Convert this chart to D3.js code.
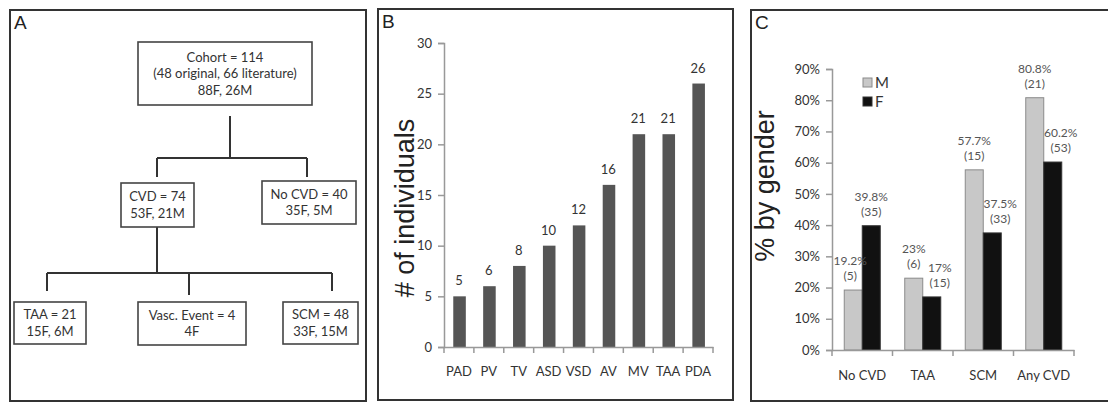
<!DOCTYPE html>
<html>
<head>
<meta charset="utf-8">
<script src="https://cdn.jsdelivr.net/npm/d3@7"></script>
<style>
  body { margin: 0; background: #fff; }
  svg { display: block; }
  text { fill: #333; }
</style>
</head>
<body>
<svg id="fig" width="1108" height="403"></svg>
<script>
// ---- panel A: flow chart text ----
var flowNodes = [
  { id: "cohort", lines: ["Cohort = 114", "(48 original, 66 literature)", "88F, 26M"] },
  { id: "cvd", parent: "cohort", lines: ["CVD = 74", "53F, 21M"] },
  { id: "nocvd", parent: "cohort", lines: ["No CVD = 40", "35F, 5M"] },
  { id: "taa", parent: "cvd", lines: ["TAA = 21", "15F, 6M"] },
  { id: "vasc", parent: "cvd", lines: ["Vasc. Event = 4", "4F"] },
  { id: "scm", parent: "cvd", lines: ["SCM = 48", "33F, 15M"] }
];

// ---- panel B: defects ----
var defects = ["PAD", "PV", "TV", "ASD", "VSD", "AV", "MV", "TAA", "PDA"];
var defectCounts = [5, 6, 8, 10, 12, 16, 21, 21, 26];
var countTicks = [0, 5, 10, 15, 20, 25, 30];

// ---- panel C: % by gender ----
var groups = ["No CVD", "TAA", "SCM", "Any CVD"];
var genders = ["M", "F"];
var pctMale = [19.2, 23, 57.7, 80.8];
var pctFemale = [39.8, 17, 37.5, 60.2];
var nMale = [5, 6, 15, 21];
var nFemale = [35, 15, 33, 53];
var pctTicks = [0, 10, 20, 30, 40, 50, 60, 70, 80, 90];

// 布局（流程图框的位置）
var flowLayout = {
  cohort: { x: 138, y: 42, w: 174, h: 63 },
  cvd:    { x: 121, y: 183, w: 73, h: 44, drop: 157, dropEnd: 177 },
  nocvd:  { x: 262, y: 181, w: 94, h: 43, drop: 307, dropEnd: 177 },
  taa:    { x: 14,  y: 302, w: 72, h: 42, drop: 47, dropEnd: 291 },
  vasc:   { x: 138, y: 302, w: 108, h: 43, drop: 189, dropEnd: 295 },
  scm:    { x: 283, y: 302, w: 75, h: 42, drop: 332, dropEnd: 291 }
};
var flowBus = {
  cohort: { stemTop: 116, busY: 158, stemX: 230 },
  cvd:    { stemTop: 227, busY: 273, stemX: 157 }
};

var bodyFont = "Lato, 'Open Sans', sans-serif";
var titleFont = "'Liberation Sans', Arial, sans-serif";

var svg = d3.select("#fig");

// panel frames
var frames = [
  { label: "A", x: 10, y: 10, w: 356, h: 391 },
  { label: "B", x: 378, y: 9, w: 355, h: 391 },
  { label: "C", x: 751, y: 10, w: 400, h: 391 }
];
svg.selectAll("rect.frame").data(frames).enter().append("rect")
  .attr("class", "frame")
  .attr("x", d => d.x).attr("y", d => d.y)
  .attr("width", d => d.w).attr("height", d => d.h)
  .attr("fill", "none").attr("stroke", "#333").attr("stroke-width", 2);
svg.selectAll("text.plabel").data(frames).enter().append("text")
  .attr("class", "plabel")
  .attr("x", d => d.x + 4).attr("y", d => d.y + 19)
  .style("font-family", titleFont).style("font-size", "19px")
  .style("fill", "#222")
  .text(d => d.label);

/*-------- A: flow chart --------*/
var gA = svg.append("g");

// 连线：父框下方的竖线 + 横线 + 各子框的下垂线
Object.keys(flowBus).forEach(function (pid) {
  var b = flowBus[pid];
  var kids = flowNodes.filter(n => n.parent === pid);
  var xs = kids.map(k => flowLayout[k.id].drop);
  var path = d3.path();
  path.moveTo(b.stemX, b.stemTop); path.lineTo(b.stemX, b.busY);
  path.moveTo(d3.min(xs), b.busY); path.lineTo(d3.max(xs), b.busY);
  kids.forEach(function (k) {
    var L = flowLayout[k.id];
    path.moveTo(L.drop, b.busY);
    path.lineTo(L.drop, L.dropEnd);
  });
  gA.append("path").attr("d", path.toString())
    .attr("fill", "none").attr("stroke", "#333").attr("stroke-width", 2);
});

var nodeG = gA.selectAll("g.node").data(flowNodes).enter().append("g").attr("class", "node");
nodeG.append("rect")
  .attr("x", d => flowLayout[d.id].x).attr("y", d => flowLayout[d.id].y)
  .attr("width", d => flowLayout[d.id].w).attr("height", d => flowLayout[d.id].h)
  .attr("fill", "#fff").attr("stroke", "#444").attr("stroke-width", 1.6);
nodeG.each(function (d) {
  var L = flowLayout[d.id];
  var cy = L.y + L.h / 2;
  var n = d.lines.length;
  d3.select(this).selectAll("text").data(d.lines).enter().append("text")
    .attr("x", L.x + L.w / 2)
    .attr("y", (t, i) => cy + (i - (n - 1) / 2) * 16.5 + 4.5)
    .attr("text-anchor", "middle")
    .style("font-family", bodyFont).style("font-size", "13px")
    .text(t => t);
});

/*-------- B: bar chart --------*/
var gB = svg.append("g");
var xB = d3.scaleBand().domain(defects).range([444, 713]).padding(0);
var yB = d3.scaleLinear().domain([0, 30]).range([347, 43]);
var bwB = xB.bandwidth();

gB.selectAll("rect.bar").data(defects).enter().append("rect")
  .attr("x", d => xB(d) + bwB * 0.31)
  .attr("width", bwB * 0.42)
  .attr("y", (d, i) => yB(defectCounts[i]))
  .attr("height", (d, i) => yB(0) - yB(defectCounts[i]))
  .attr("fill", "#555");
gB.selectAll("text.val").data(defects).enter().append("text")
  .attr("class", "val")
  .attr("x", d => xB(d) + bwB / 2)
  .attr("y", (d, i) => yB(defectCounts[i]) - 11)
  .attr("text-anchor", "middle")
  .style("font-family", bodyFont).style("font-size", "13px")
  .text((d, i) => defectCounts[i]);

gB.append("g").attr("transform", "translate(444,0)")
  .call(d3.axisLeft(yB).tickValues(countTicks).tickSize(6).tickPadding(6));
gB.append("g").attr("transform", "translate(0,347)")
  .call(d3.axisBottom(xB).tickSize(0).tickPadding(20));
// 类别之间的刻度
gB.selectAll("line.xtick").data(defects.concat(["end"])).enter().append("line")
  .attr("x1", (d, i) => i < defects.length ? xB(d) : xB.range()[1])
  .attr("x2", (d, i) => i < defects.length ? xB(d) : xB.range()[1])
  .attr("y1", 347).attr("y2", 353)
  .attr("stroke", "#999").attr("stroke-width", 1.5);

gB.append("text")
  .attr("transform", "translate(414,208) rotate(-90)")
  .attr("text-anchor", "middle")
  .style("font-family", titleFont).style("font-size", "27px")
  .style("fill", "#222")
  .text("# of individuals");

/*-------- C: grouped bars --------*/
var gC = svg.append("g");
var xC = d3.scaleBand().domain(groups).range([832, 1074]).padding(0);
var xIn = d3.scaleBand().domain(genders).range([0, 36]);
var yC = d3.scaleLinear().domain([0, 90]).range([350, 69]);
var offC = (xC.bandwidth() - 36) / 2;
var genderFill = { M: "#c8c8c8", F: "#111" };
var genderStroke = { M: "#8a8a8a", F: "#333" };

var cells = [];
groups.forEach(function (g, i) {
  cells.push({ g: g, s: "M", p: pctMale[i], n: nMale[i], other: pctFemale[i] });
  cells.push({ g: g, s: "F", p: pctFemale[i], n: nFemale[i], other: pctMale[i] });
});

gC.selectAll("rect.bar").data(cells).enter().append("rect")
  .attr("x", d => xC(d.g) + offC + xIn(d.s))
  .attr("width", xIn.bandwidth())
  .attr("y", d => yC(d.p))
  .attr("height", d => yC(0) - yC(d.p))
  .attr("fill", d => genderFill[d.s])
  .attr("stroke", d => genderStroke[d.s]).attr("stroke-width", 1);

// 数据标签：较矮的柱子标签往外偏一点
function labelX(d) {
  var cx = xC(d.g) + offC + xIn(d.s) + xIn.bandwidth() / 2;
  if (d.s === "F" && d.other > d.p) cx += 8;
  if (d.s === "M" && d.other > d.p) cx -= 3;
  return cx;
}
var lab = gC.selectAll("g.lab").data(cells).enter().append("g").attr("class", "lab");
lab.append("text")
  .attr("x", labelX).attr("y", d => yC(d.p) - 25)
  .attr("text-anchor", "middle")
  .style("font-family", bodyFont).style("font-size", "12px").style("fill", "#555")
  .text(d => d.p + "%");
lab.append("text")
  .attr("x", labelX).attr("y", d => yC(d.p) - 10)
  .attr("text-anchor", "middle")
  .style("font-family", bodyFont).style("font-size", "12px").style("fill", "#555")
  .text(d => "(" + d.n + ")");

gC.append("g").attr("transform", "translate(832,0)")
  .call(d3.axisLeft(yC).tickValues(pctTicks).tickFormat(d => d + "%").tickSize(6).tickPadding(6));
gC.append("g").attr("transform", "translate(0,350)")
  .call(d3.axisBottom(xC).tickSize(0).tickPadding(21));
gC.selectAll("line.xtick").data(groups.concat(["end"])).enter().append("line")
  .attr("x1", (d, i) => i < groups.length ? xC(d) : xC.range()[1])
  .attr("x2", (d, i) => i < groups.length ? xC(d) : xC.range()[1])
  .attr("y1", 350).attr("y2", 356)
  .attr("stroke", "#999").attr("stroke-width", 1.5);

// 图例
var leg = gC.selectAll("g.leg").data(genders).enter().append("g").attr("class", "leg")
  .attr("transform", (d, i) => "translate(863," + (78 + i * 19) + ")");
leg.append("rect").attr("width", 9).attr("height", 9)
  .attr("fill", d => genderFill[d]).attr("stroke", d => genderStroke[d]);
leg.append("text").attr("x", 12).attr("y", 10)
  .style("font-family", bodyFont).style("font-size", "15px")
  .text(d => d);

gC.append("text")
  .attr("transform", "translate(774,186) rotate(-90)")
  .attr("text-anchor", "middle")
  .style("font-family", titleFont).style("font-size", "27px")
  .style("fill", "#222")
  .text("% by gender");

// 坐标轴样式
svg.selectAll(".domain").attr("stroke", "#999").attr("stroke-width", 1.5);
svg.selectAll(".tick line").attr("stroke", "#999").attr("stroke-width", 1.5);
svg.selectAll(".tick text")
  .style("font-family", bodyFont).style("font-size", "13px").style("fill", "#333");
</script>
</body>
</html>
